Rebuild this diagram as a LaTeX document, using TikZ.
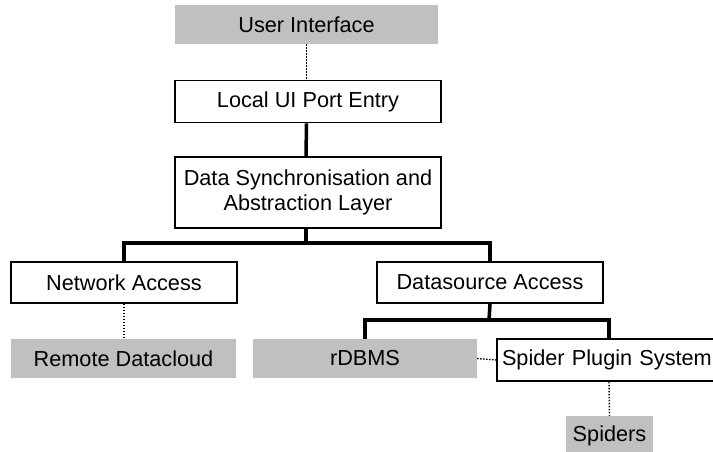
\documentclass[tikz,border=0pt]{standalone}
\usepackage{fontspec}
\setmainfont{Liberation Sans}
\definecolor{boxgray}{RGB}{192,192,192}
\begin{document}
\begin{tikzpicture}[x=1pt,y=-1pt,
  lbl/.style={font=\fontsize{21.7}{25}\selectfont, align=center, inner sep=0pt},
  whitebox/.style={lbl, draw=black, line width=1.8pt, fill=white},
  graybox/.style={lbl, fill=boxgray},
  solidline/.style={draw=black, line width=3.5pt},
  dotline/.style={draw=black, line width=1.4pt, dash pattern=on 1.4pt off 1.6pt}]
\useasboundingbox (0,0) rectangle (713,452);
\clip (0,0) rectangle (713,452);
\fill[white] (0,0) rectangle (713,452);

\node[graybox, minimum width=263pt, minimum height=39pt] (ui) at (306.5,24.5) {User Interface};
\node[whitebox, minimum width=266pt, minimum height=42pt] (local) at (308,101.5) {Local UI Port Entry};
\node[whitebox, minimum width=266pt, minimum height=71pt] (dsal) at (308,192.5) {Data Synchronisation and\\Abstraction Layer};
\node[whitebox, minimum width=226pt, minimum height=41pt] (net) at (124,282.5) {Network Access};
\node[whitebox, minimum width=226pt, minimum height=41pt] (dsa) at (490,282.5) {Datasource Access};
\node[graybox, minimum width=225pt, minimum height=39pt] (remote) at (123.5,358.5) {Remote Datacloud};
\node[graybox, minimum width=224pt, minimum height=39pt] (rdbms) at (365,358.5) {rDBMS};
\node[whitebox, minimum height=42pt, text width=253pt, inner xsep=5pt, align=left] (spider) at (628.5,360) {Spider Plugin System};
\node[graybox, minimum width=87pt, minimum height=40pt] (spiders) at (609.5,436) {Spiders};

\coordinate (j1) at (306,243);
\coordinate (j2) at (489,320);
\coordinate (sp) at (609,339);

\draw[dotline] (ui.south) -- (ui.south |- local.north);
\draw[solidline] (local.south -| ui.south) -- (j1 |- dsal.north);
\draw[solidline] (j1 |- dsal.south) -- (j1);
\draw[solidline] (net.north) |- (j1) -| (dsa.north);
\draw[solidline] (dsa.south) -- (j2);
\draw[solidline] (rdbms.north) |- (j2) -| (sp);
\draw[dotline] (net.south) -- (remote.north -| net.south);
\draw[dotline] (rdbms.east) -- (spider.west);
\draw[dotline] (sp |- spider.south) -- (spiders.north);
\end{tikzpicture}
\end{document}
